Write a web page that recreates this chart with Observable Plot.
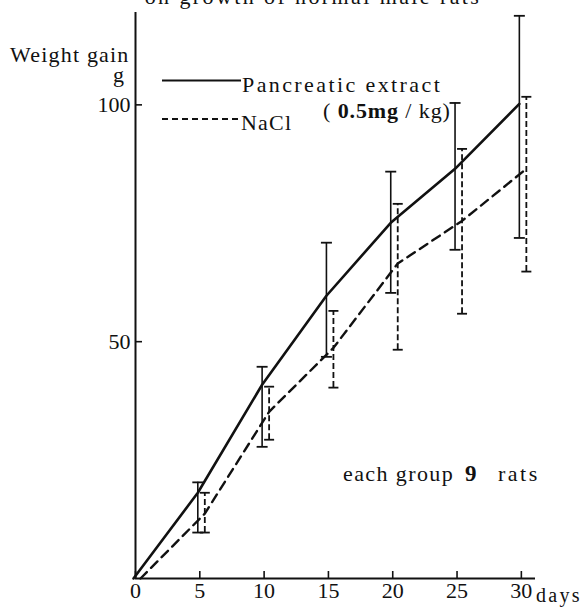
<!DOCTYPE html>
<html>
<head>
<meta charset="utf-8">
<script src="https://cdn.jsdelivr.net/npm/d3@7"></script>
<script src="https://cdn.jsdelivr.net/npm/@observablehq/plot@0.6"></script>
<style>
  html, body { margin: 0; padding: 0; background: #fff; }
  #chart { width: 581px; height: 609px; overflow: hidden; }
</style>
</head>
<body>
<div id="chart"></div>
<script>
// ---- data ----
const days = [0, 5, 10, 15, 20, 25, 30];
const pancreaticMean = [0, 18.1, 40.9, 59.7, 75.1, 86.5, 100.2];
const pancreaticHigh = [null, 20.3, 44.7, 70.9, 85.9, 100.4, 118.8];
const pancreaticLow  = [null, 9.7, 27.8, 46.8, 60.3, 69.4, 71.9];
const naclMean = [0, 13.7, 35.2, 48.7, 66.5, 75.5, 86.5];
const naclHigh = [null, 18.1, 40.5, 56.5, 79.1, 90.7, 101.7];
const naclLow  = [null, 9.7, 29.3, 40.3, 48.3, 55.9, 64.8];
const xTicks = [0, 5, 10, 15, 20, 25, 30];
const yTicks = [50, 100];
const seriesNames = ["Pancreatic extract", "NaCl"];
const doseLabel = ["( ", "0.5mg", " / kg)"];
const titleText = "on growth of normal male rats";
const yLabel = ["Weight gain", "g"];
const xLabel = "days";
const noteText = ["each group", "9", "rats"];

// ---- build tables ----
function rows(mean, low, high) {
  return days.map((d, i) => ({day: d, mean: mean[i], low: low[i], high: high[i]}));
}
const panc = rows(pancreaticMean, pancreaticLow, pancreaticHigh);
const nacl = rows(naclMean, naclLow, naclHigh);
const withBars = r => r.filter(d => d.low != null);

const cap = {
  draw(ctx, size) {
    const r = Math.sqrt(size / Math.PI);
    ctx.moveTo(-r, 0);
    ctx.lineTo(r, 0);
  }
};

const FONT = "'Liberation Serif', 'DejaVu Serif', serif";
const INK = "#111";

const chart = Plot.plot({
  width: 581,
  height: 609,
  marginLeft: 135,
  marginRight: 46,
  marginTop: 12,
  marginBottom: 31,
  x: {domain: [0, 31.1]},
  y: {domain: [0, 119.5]},
  style: {fontFamily: FONT, fontSize: "22px", color: INK, background: "#fff"},
  marks: [
    Plot.axisY({ticks: yTicks, tickSize: 7, dx: 7, tickPadding: 5, label: null, strokeWidth: 1.6}),
    Plot.axisX({ticks: xTicks, tickSize: 7, dy: -7, tickPadding: 4, label: null, strokeWidth: 1.6}),
    Plot.ruleX([0], {stroke: INK, strokeWidth: 2}),
    Plot.ruleY([0], {stroke: INK, strokeWidth: 2}),
    // Pancreatic extract (solid)
    Plot.ruleX(withBars(panc), {x: "day", y1: "low", y2: "high", dx: -2, stroke: INK, strokeWidth: 1.6}),
    Plot.dot(withBars(panc), {x: "day", y: "high", dx: -2, symbol: cap, r: 5.5, fill: "none", stroke: INK, strokeWidth: 1.8}),
    Plot.dot(withBars(panc), {x: "day", y: "low", dx: -2, symbol: cap, r: 5.5, fill: "none", stroke: INK, strokeWidth: 1.8}),
    Plot.line(panc, {x: "day", y: "mean", dx: -2, stroke: INK, strokeWidth: 2.6, curve: "linear"}),
    // NaCl (dashed)
    Plot.ruleX(withBars(nacl), {x: "day", y1: "low", y2: "high", dx: 5, stroke: INK, strokeWidth: 1.8, strokeDasharray: "6,3"}),
    Plot.dot(withBars(nacl), {x: "day", y: "high", dx: 5, symbol: cap, r: 5, fill: "none", stroke: INK, strokeWidth: 1.8}),
    Plot.dot(withBars(nacl), {x: "day", y: "low", dx: 5, symbol: cap, r: 5, fill: "none", stroke: INK, strokeWidth: 1.8}),
    Plot.line(nacl, {x: "day", y: "mean", dx: 5, stroke: INK, strokeWidth: 2.4, strokeDasharray: "9,6", curve: "linear"})
  ]
});

document.getElementById("chart").appendChild(chart);

// ---- annotations (text labels and legend key) ----
const svg = d3.select(chart);
const g = svg.append("g")
  .attr("font-family", FONT)
  .attr("fill", INK)
  .attr("text-anchor", "start")
  .style("white-space", "pre");

function label(str, x, y, size, ls, anchor = "start", weight = "normal") {
  return g.append("text")
    .attr("x", x).attr("y", y)
    .style("font-family", FONT)
    .attr("font-size", size)
    .attr("letter-spacing", ls)
    .attr("text-anchor", anchor)
    .attr("font-weight", weight)
    .text(str);
}

// title (partly cut off at the top, as in the reference)
label(titleText, 313, 4, 22, 2.4, "middle");

// y label
label(yLabel[0], 10, 62, 22, 1.2);
label(yLabel[1], 113, 82, 22, 0);

// legend
g.append("line").attr("x1", 162).attr("x2", 241).attr("y1", 80.5).attr("y2", 80.5)
  .attr("stroke", INK).attr("stroke-width", 2.2);
label(seriesNames[0], 242, 92, 22, 2.4);
const dose = g.append("text")
  .attr("x", 323).attr("y", 118)
  .attr("text-anchor", "start")
  .style("font-family", FONT)
  .attr("font-size", 22).attr("letter-spacing", 0.9);
dose.append("tspan").text(doseLabel[0]);
dose.append("tspan").attr("font-weight", "bold").text(doseLabel[1]);
dose.append("tspan").text(doseLabel[2]);

g.append("line").attr("x1", 162).attr("x2", 240).attr("y1", 119).attr("y2", 119)
  .attr("stroke", INK).attr("stroke-width", 2.2).attr("stroke-dasharray", "6,4");
label(seriesNames[1], 241, 130, 22, 1.2);

// note
label(noteText[0], 343, 481, 22, 1.4);
label(noteText[1], 465, 481, 23, 0, "start", "bold");
label(noteText[2], 498, 481, 22, 2.5);

// x label
label(xLabel, 536, 602, 20, 2.3);
</script>
</body>
</html>
